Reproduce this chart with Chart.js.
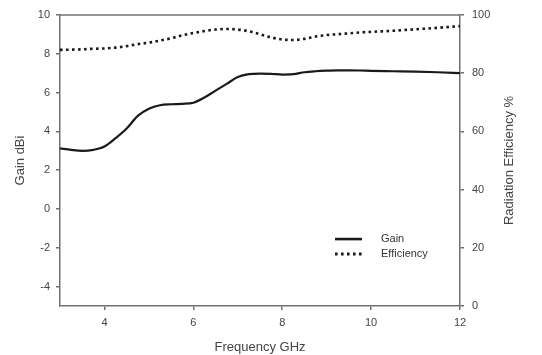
<!DOCTYPE html>
<html>
<head>
<meta charset="utf-8">
<script src="https://cdn.jsdelivr.net/npm/chart.js@4"></script>
<style>
  html, body { margin: 0; padding: 0; background: #fff; }
  #wrap { width: 542px; height: 355px; position: relative; }
</style>
</head>
<body>
<div id="wrap"><canvas id="chart"></canvas></div>
<script>
// frequency points (GHz)
const freqs = [3, 3.25, 3.5, 3.75, 4, 4.25, 4.5, 4.75, 5, 5.25, 5.5, 5.75, 6, 6.25, 6.5, 6.75,
               7, 7.25, 7.5, 7.75, 8, 8.25, 8.5, 8.75, 9, 9.25, 9.5, 9.75, 10, 10.5, 11, 11.5, 12];
// gain in dBi
const gain = [3.13, 3.05, 3.0, 3.05, 3.22, 3.65, 4.15, 4.8, 5.17, 5.35, 5.4, 5.42, 5.48, 5.75, 6.1, 6.45,
              6.8, 6.95, 6.98, 6.97, 6.93, 6.95, 7.05, 7.1, 7.13, 7.15, 7.15, 7.14, 7.12, 7.1, 7.08, 7.05, 7.0];
// radiation efficiency in %
const efficiency = [88.0, 88.1, 88.2, 88.4, 88.5, 88.8, 89.3, 90.0, 90.5, 91.2, 92.0, 93.0, 93.8, 94.5, 95.0, 95.2,
                    95.0, 94.4, 93.4, 92.3, 91.6, 91.4, 91.8, 92.6, 93.1, 93.4, 93.7, 94.0, 94.2, 94.6, 95.1, 95.6, 96.2];

const xTicks = [4, 6, 8, 10, 12];
const gainTicks = [-4, -2, 0, 2, 4, 6, 8, 10];
const effTicks = [0, 20, 40, 60, 80, 100];
const rightTitle = 'Radiation Efficiency %';

const axisColor = '#707070';
const textColor = '#444';
const fontFamily = '"Liberation Sans", Arial, sans-serif';

function fixTicks(values) {
    return function (scale) {
        scale.ticks = values.map(v => ({ value: v }));
    };
}

// top border of the frame, right axis title (reads upwards) and the legend inside the plot
const framePlugin = {
    id: 'frame',
    afterDraw(chart) {
        const { ctx, chartArea } = chart;
        ctx.save();
        ctx.strokeStyle = axisColor;
        ctx.lineWidth = 1.5;
        ctx.beginPath();
        ctx.moveTo(chartArea.left, chartArea.top);
        ctx.lineTo(chartArea.right, chartArea.top);
        ctx.stroke();

        // right axis title
        ctx.save();
        ctx.translate(chartArea.right + 49, (chartArea.top + chartArea.bottom) / 2);
        ctx.rotate(-Math.PI / 2);
        ctx.font = '13px ' + fontFamily;
        ctx.fillStyle = textColor;
        ctx.textAlign = 'center';
        ctx.textBaseline = 'middle';
        ctx.fillText(rightTitle, 0, 0);
        ctx.restore();

        // legend
        const w = chartArea.right - chartArea.left;
        const h = chartArea.bottom - chartArea.top;
        const lx = chartArea.left + 0.6875 * w;
        const ly = chartArea.top + 0.77 * h;
        ctx.font = '11px ' + fontFamily;
        ctx.textBaseline = 'middle';
        chart.data.datasets.forEach((ds, i) => {
            const y = ly + i * 15;
            ctx.strokeStyle = ds.borderColor;
            ctx.lineWidth = ds.borderWidth + 0.4;
            ctx.setLineDash(ds.borderDash || []);
            ctx.beginPath();
            ctx.moveTo(lx, y);
            ctx.lineTo(lx + 27, y);
            ctx.stroke();
            ctx.setLineDash([]);
            ctx.fillStyle = '#333';
            ctx.fillText(ds.label, lx + 46, y);
        });
        ctx.restore();
    }
};

const ctx = document.getElementById('chart').getContext('2d');
new Chart(ctx, {
    type: 'line',
    data: {
        labels: freqs,
        datasets: [
            {
                label: 'Gain',
                data: freqs.map((f, i) => ({ x: f, y: gain[i] })),
                yAxisID: 'y',
                borderColor: '#1a1a1a',
                borderWidth: 2.2,
                pointRadius: 0,
                cubicInterpolationMode: 'monotone',
                fill: false
            },
            {
                label: 'Efficiency',
                data: freqs.map((f, i) => ({ x: f, y: efficiency[i] })),
                yAxisID: 'y2',
                borderColor: '#1a1a1a',
                borderWidth: 2.6,
                borderDash: [2.6, 3.4],
                pointRadius: 0,
                cubicInterpolationMode: 'monotone',
                fill: false
            }
        ]
    },
    options: {
        responsive: true,
        maintainAspectRatio: false,
        animation: false,
        layout: { padding: { top: 15, left: 0, right: 0, bottom: 0 } },
        plugins: {
            legend: { display: false },
            tooltip: { enabled: false }
        },
        scales: {
            x: {
                type: 'linear',
                min: 3,
                max: 12,
                afterBuildTicks: fixTicks(xTicks),
                afterFit: scale => { scale.height = 49; },
                border: { display: true, color: axisColor, width: 1.5 },
                grid: { display: true, drawOnChartArea: false, drawTicks: true, tickLength: 4, color: axisColor, lineWidth: 1.5 },
                ticks: { color: textColor, font: { size: 11, family: fontFamily }, padding: 6, maxRotation: 0 },
                title: { display: true, text: 'Frequency GHz', color: textColor, font: { size: 13, family: fontFamily }, padding: { top: 0, bottom: 0 } }
            },
            y: {
                position: 'left',
                min: -5,
                max: 10,
                afterBuildTicks: fixTicks(gainTicks),
                afterFit: scale => { scale.width = 60; },
                border: { display: true, color: axisColor, width: 1.5 },
                grid: { display: true, drawOnChartArea: false, drawTicks: true, tickLength: 4, color: axisColor, lineWidth: 1.5 },
                ticks: { color: textColor, font: { size: 11, family: fontFamily }, padding: 6 },
                title: { display: true, text: 'Gain dBi', color: textColor, font: { size: 13, family: fontFamily }, padding: { top: 13, bottom: 0 } }
            },
            y2: {
                position: 'right',
                min: 0,
                max: 100,
                afterBuildTicks: fixTicks(effTicks),
                afterFit: scale => { scale.width = 82; },
                border: { display: true, color: axisColor, width: 1.5 },
                grid: { display: true, drawOnChartArea: false, drawTicks: true, tickLength: 4, color: axisColor, lineWidth: 1.5 },
                ticks: { color: textColor, font: { size: 11, family: fontFamily }, padding: 8 },
                title: { display: false }
            }
        }
    },
    plugins: [framePlugin]
});
</script>
</body>
</html>
